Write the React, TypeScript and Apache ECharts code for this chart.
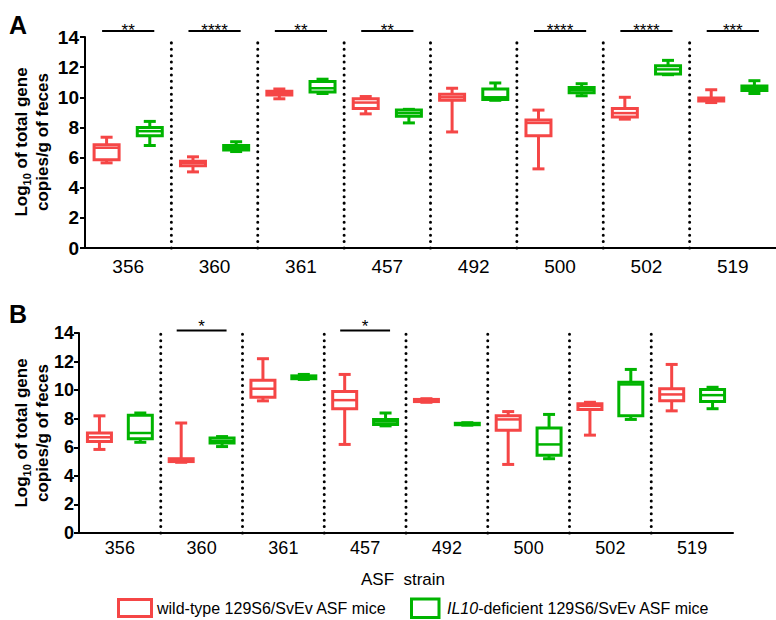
import React, { useEffect, useRef } from "react";
import * as echarts from "echarts";

const strains = ["356", "360", "361", "457", "492", "500", "502", "519"];
const boxCats = strains.flatMap((s) => [s + " WT", s + " IL10"]);

// [min, q1, median, q3, max]
const aWild = [
  [5.65, 5.85, 6.65, 6.85, 7.35],
  [5.05, 5.45, 5.65, 5.75, 6.05],
  [9.9, 10.15, 10.3, 10.4, 10.55],
  [8.9, 9.25, 9.65, 9.9, 10.05],
  [7.7, 9.8, 10.0, 10.2, 10.6],
  [5.25, 7.45, 8.3, 8.5, 9.15],
  [8.55, 8.7, 8.95, 9.25, 10.0],
  [9.65, 9.75, 9.85, 9.95, 10.5],
];
const aIL10 = [
  [6.8, 7.45, 7.75, 8.0, 8.4],
  [6.4, 6.5, 6.65, 6.8, 7.05],
  [10.25, 10.35, 10.6, 11.05, 11.2],
  [8.3, 8.75, 8.95, 9.15, 9.2],
  [9.8, 9.85, 10.0, 10.55, 10.95],
  [10.1, 10.3, 10.48, 10.65, 10.9],
  [11.5, 11.55, 11.85, 12.1, 12.45],
  [10.25, 10.45, 10.6, 10.75, 11.1],
];
const bWild = [
  [5.85, 6.4, 6.7, 7.0, 8.2],
  [4.95, 5.0, 5.1, 5.2, 7.7],
  [9.25, 9.5, 10.1, 10.7, 12.2],
  [6.2, 8.7, 9.3, 9.9, 11.1],
  [9.15, 9.2, 9.3, 9.35, 9.4],
  [4.8, 7.2, 7.95, 8.2, 8.5],
  [6.85, 8.65, 8.9, 9.05, 9.15],
  [8.55, 9.25, 9.7, 10.1, 11.8],
];
const bIL10 = [
  [6.35, 6.6, 7.0, 8.25, 8.4],
  [6.05, 6.3, 6.45, 6.65, 6.75],
  [10.75, 10.8, 10.9, 11.0, 11.1],
  [7.5, 7.6, 7.8, 7.95, 8.4],
  [7.55, 7.58, 7.62, 7.68, 7.72],
  [5.2, 5.45, 6.2, 7.35, 8.3],
  [7.95, 8.2, 10.4, 10.55, 11.45],
  [8.7, 9.2, 9.65, 10.05, 10.2],
];
const sigA = ["**", "****", "**", "**", "", "****", "****", "***"];
const sigB = ["", "*", "", "*", "", "", "", ""];

const RED = "#F54646";
const GREEN = "#00B400";
const FONT = "Arial, 'Liberation Sans', sans-serif";
const Y_MAX = 14;

function boxSeries(data: number[][], color: string, axis: number, offset: number, hw: number) {
  return {
    type: "custom",
    xAxisIndex: axis * 2,
    yAxisIndex: axis,
    data: data.map((d, i) => [2 * i + offset, ...d]),
    encode: { x: 0, y: [1, 2, 3, 4, 5] },
    renderItem: (params: any, api: any) => {
      const idx = api.value(0);
      const x = api.coord([idx, 0])[0];
      const y = (k: number) => api.coord([idx, api.value(k)])[1];
      const yMin = y(1), yQ1 = y(2), yMed = y(3), yQ3 = y(4), yMax = y(5);
      const cw = 6;
      const ls = { stroke: color, lineWidth: 3 };
      return {
        type: "group",
        children: [
          { type: "line", shape: { x1: x, y1: yMax, x2: x, y2: yQ3 }, style: ls },
          { type: "line", shape: { x1: x, y1: yQ1, x2: x, y2: yMin }, style: ls },
          { type: "line", shape: { x1: x - cw, y1: yMax, x2: x + cw, y2: yMax }, style: ls },
          { type: "line", shape: { x1: x - cw, y1: yMin, x2: x + cw, y2: yMin }, style: ls },
          {
            type: "rect",
            shape: { x: x - hw, y: yQ3, width: 2 * hw, height: yQ1 - yQ3 },
            style: { stroke: color, lineWidth: 3, fill: "#fff" },
          },
          { type: "line", shape: { x1: x - hw, y1: yMed, x2: x + hw, y2: yMed }, style: { stroke: color, lineWidth: 2.5 } },
        ],
      };
    },
  };
}

function sepSeries(axis: number) {
  const groups = strains.slice(1).map((_, i) => [2 * (i + 1), 0]);
  return {
    type: "custom",
    xAxisIndex: axis * 2,
    yAxisIndex: axis,
    data: groups,
    renderItem: (params: any, api: any) => {
      const i = api.value(0);
      const x = (api.coord([i - 1, 0])[0] + api.coord([i, 0])[0]) / 2;
      const y0 = api.coord([i, 0])[1];
      const y1 = api.coord([i, Y_MAX])[1];
      return {
        type: "line",
        shape: { x1: x, y1: y0, x2: x, y2: y1 },
        style: { stroke: "#000", lineWidth: 3, lineDash: [0.01, 6.4], lineCap: "round" },
      };
    },
  };
}

function sigSeries(axis: number, sig: string[], yVal: number, textDy: number) {
  const data = sig.map((s, i) => [2 * i, yVal, i]).filter((d) => sig[d[2]] !== "");
  return {
    type: "custom",
    xAxisIndex: axis * 2,
    yAxisIndex: axis,
    data,
    renderItem: (params: any, api: any) => {
      const i = api.value(0);
      const g = api.value(2);
      const x1 = api.coord([i, 0])[0] - 4.5;
      const x2 = api.coord([i + 1, 0])[0] + 4.5;
      const y = api.coord([i, api.value(1)])[1];
      return {
        type: "group",
        children: [
          { type: "line", shape: { x1, y1: y, x2, y2: y }, style: { stroke: "#000", lineWidth: 2 } },
          {
            type: "text",
            x: (x1 + x2) / 2,
            y: y + textDy,
            style: { text: sig[g], fontSize: 17, fontFamily: FONT, fill: "#000", align: "center", verticalAlign: "middle" },
          },
        ],
      };
    },
  };
}

function xAxes(grid: number, labelSize: number, margin: number) {
  return [
    {
      gridIndex: grid,
      type: "category",
      position: "bottom",
      data: boxCats,
      axisLine: { lineStyle: { color: "#000", width: 2 } },
      axisTick: { alignWithLabel: true, interval: 0, length: 6, lineStyle: { color: "#000", width: 2 } },
      axisLabel: { show: false },
      splitLine: { show: false },
    },
    {
      gridIndex: grid,
      type: "category",
      position: "bottom",
      offset: 0,
      data: strains,
      axisLine: { show: false },
      axisTick: { show: false },
      axisLabel: { fontSize: labelSize, color: "#000", margin, fontFamily: FONT },
      splitLine: { show: false },
    },
  ];
}

function yAxis(grid: number, labelSize: number, margin: number) {
  return {
    gridIndex: grid,
    type: "value",
    position: "left",
    min: 0,
    max: Y_MAX,
    interval: 2,
    axisLine: { show: true, lineStyle: { color: "#000", width: 2 } },
    axisTick: { show: true, length: 5, lineStyle: { color: "#000", width: 2 } },
    axisLabel: { fontSize: labelSize, fontWeight: "bold", color: "#000", margin, fontFamily: FONT },
    splitLine: { show: false },
  };
}

function yName(cx: number, cy: number) {
  return {
    type: "text",
    x: cx,
    y: cy,
    rotation: Math.PI / 2,
    style: {
      text: "{b|Log}{s|10}{b| of total gene}\n{b|copies/g of feces}",
      align: "center",
      verticalAlign: "middle",
      fill: "#000",
      rich: {
        b: { fontSize: 17, fontWeight: "bold", fontFamily: FONT, lineHeight: 21, fill: "#000" },
        s: { fontSize: 11, fontWeight: "bold", fontFamily: FONT, verticalAlign: "bottom", fill: "#000" },
      },
    },
  };
}

export default function App() {
  const ref = useRef<HTMLDivElement>(null);
  useEffect(() => {
    document.body.style.margin = "0";
    if (!ref.current) return;
    const chart = echarts.init(ref.current, null, { renderer: "svg" });
    chart.setOption({
      animation: false,
      backgroundColor: "#fff",
      grid: [
        { left: 85, top: 37, width: 691, height: 211 },
        { left: 79, top: 333, width: 654, height: 200 },
      ],
      xAxis: [...xAxes(0, 19, 9), ...xAxes(1, 18, 6)],
      yAxis: [yAxis(0, 19, 6), yAxis(1, 18, 5)],
      series: [
        sepSeries(0),
        sepSeries(1),
        boxSeries(aWild, RED, 0, 0, 12.5),
        boxSeries(aIL10, GREEN, 0, 1, 12.5),
        boxSeries(bWild, RED, 1, 0, 12),
        boxSeries(bIL10, GREEN, 1, 1, 12),
        sigSeries(0, sigA, 14.4, 0),
        sigSeries(1, sigB, 14.18, -4),
      ],
      graphic: [
        { type: "text", x: 9, y: 25, style: { text: "A", fontSize: 25, fontWeight: "bold", fontFamily: FONT, fill: "#000", verticalAlign: "middle" } },
        { type: "text", x: 9, y: 314, style: { text: "B", fontSize: 25, fontWeight: "bold", fontFamily: FONT, fill: "#000", verticalAlign: "middle" } },
        yName(32, 142),
        yName(32, 433),
        {
          type: "text",
          x: 403,
          y: 579,
          style: { text: "ASF  strain", fontSize: 17, fontFamily: FONT, fill: "#000", align: "center", verticalAlign: "middle" },
        },
        { type: "rect", shape: { x: 118.5, y: 599.5, width: 33, height: 17 }, style: { stroke: RED, lineWidth: 3, fill: "#fff" } },
        {
          type: "text",
          x: 157,
          y: 608,
          style: { text: "wild-type 129S6/SvEv ASF mice", fontSize: 16, fontFamily: FONT, fill: "#000", verticalAlign: "middle" },
        },
        { type: "rect", shape: { x: 411.5, y: 599, width: 27.5, height: 18.5 }, style: { stroke: GREEN, lineWidth: 3, fill: "#fff" } },
        {
          type: "text",
          x: 447,
          y: 608,
          style: {
            text: "{i|IL10}{n|-deficient 129S6/SvEv ASF mice}",
            verticalAlign: "middle",
            fill: "#000",
            rich: {
              i: { fontSize: 16, fontStyle: "italic", fontFamily: FONT, fill: "#000" },
              n: { fontSize: 16, fontFamily: FONT, fill: "#000" },
            },
          },
        },
      ],
    });
    return () => chart.dispose();
  }, []);
  return <div ref={ref} style={{ width: 776, height: 620 }} />;
}
